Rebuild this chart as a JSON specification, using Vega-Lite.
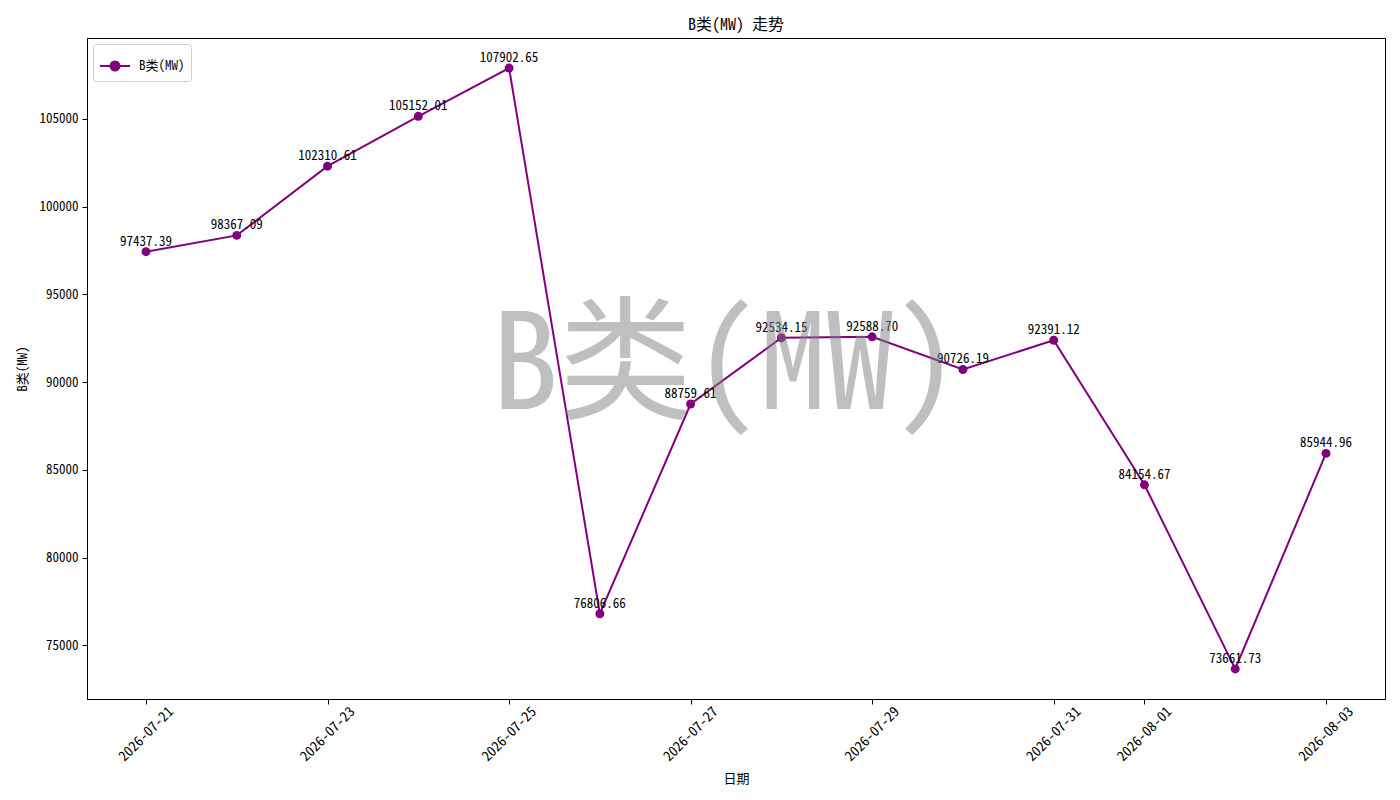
{
  "$schema": "https://vega.github.io/schema/vega-lite/v6.json",
  "width": 1298,
  "height": 661,
  "autosize": "none",
  "padding": {"left": 87, "top": 38, "right": 15, "bottom": 101},
  "background": "white",
  "title": {
    "text": "B类(MW) 走势",
    "fontSize": 16,
    "fontWeight": "normal",
    "font": "Noto Sans Mono CJK SC, Noto Sans CJK SC, sans-serif",
    "color": "black",
    "offset": 5
  },
  "config": {
    "font": "Noto Sans Mono CJK SC, Noto Sans CJK SC, sans-serif",
    "view": {"stroke": "black", "strokeWidth": 1},
    "axis": {
      "grid": false,
      "domainColor": "black",
      "tickColor": "black",
      "tickSize": 5,
      "labelColor": "black",
      "labelFontSize": 13,
      "titleFontSize": 13,
      "titleFontWeight": "normal",
      "titleColor": "black",
      "labelFont": "Noto Sans Mono CJK SC, Noto Sans CJK SC, sans-serif",
      "titleFont": "Noto Sans Mono CJK SC, Noto Sans CJK SC, sans-serif"
    }
  },
  "datasets": {
    "series": [
      {"date": "2026-07-21", "value": 97437.39},
      {"date": "2026-07-22", "value": 98367.09},
      {"date": "2026-07-23", "value": 102310.61},
      {"date": "2026-07-24", "value": 105152.01},
      {"date": "2026-07-25", "value": 107902.65},
      {"date": "2026-07-26", "value": 76806.66},
      {"date": "2026-07-27", "value": 88759.61},
      {"date": "2026-07-28", "value": 92534.15},
      {"date": "2026-07-29", "value": 92588.70},
      {"date": "2026-07-30", "value": 90726.19},
      {"date": "2026-07-31", "value": 92391.12},
      {"date": "2026-08-01", "value": 84154.67},
      {"date": "2026-08-02", "value": 73661.73},
      {"date": "2026-08-03", "value": 85944.96}
    ],
    "mark_text": [{"wm": "B类(MW)"}]
  },
  "layer": [
    {
      "data": {"name": "series"},
      "encoding": {
        "x": {
          "field": "date",
          "type": "temporal",
          "title": "日期",
          "scale": {
            "type": "utc",
            "domain": [
              {"year": 2026, "month": 7, "date": 20, "hours": 8, "minutes": 24, "utc": true},
              {"year": 2026, "month": 8, "date": 3, "hours": 15, "minutes": 36, "utc": true}
            ]
          },
          "axis": {
            "values": [
              {"year": 2026, "month": 7, "date": 21, "utc": true},
              {"year": 2026, "month": 7, "date": 23, "utc": true},
              {"year": 2026, "month": 7, "date": 25, "utc": true},
              {"year": 2026, "month": 7, "date": 27, "utc": true},
              {"year": 2026, "month": 7, "date": 29, "utc": true},
              {"year": 2026, "month": 7, "date": 31, "utc": true},
              {"year": 2026, "month": 8, "date": 1, "utc": true},
              {"year": 2026, "month": 8, "date": 3, "utc": true}
            ],
            "labelExpr": "utcFormat(datum.value, '%Y-%m-%d')",
            "labelFontSize": 14,
            "labelAngle": -45,
            "labelAlign": "center",
            "labelBaseline": "middle",
            "labelPadding": 30,
            "labelOverlap": false,
            "labelFlush": false,
            "titlePadding": 9
          }
        },
        "y": {
          "field": "value",
          "type": "quantitative",
          "title": "B类(MW)",
          "scale": {"domain": [71949, 109615], "nice": false, "zero": false},
          "axis": {
            "values": [75000, 80000, 85000, 90000, 95000, 100000, 105000],
            "format": "d",
            "labelPadding": 4,
            "titlePadding": 10
          }
        }
      },
      "layer": [
        {
          "mark": {"type": "line", "strokeWidth": 2},
          "encoding": {
            "color": {
              "datum": "B类(MW)",
              "scale": {"range": ["purple"]},
              "legend": {
                "title": null,
                "orient": "top-left",
                "offset": 6,
                "padding": 6,
                "fillColor": "white",
                "strokeColor": "#cccccc",
                "cornerRadius": 3,
                "labelFontSize": 13,
                "labelColor": "black",
                "labelOffset": 8,
                "symbolType": "M-1,0L1,0M-0.3,0A0.3,0.3 0 1,0 0.3,0A0.3,0.3 0 1,0 -0.3,0",
                "symbolSize": 900,
                "symbolStrokeWidth": 2,
                "symbolFillColor": "purple",
                "encode": {
                  "symbols": {
                    "update": {
                      "fill": {"value": "purple"},
                      "stroke": {"value": "purple"},
                      "strokeWidth": {"value": 2},
                      "opacity": {"value": 1}
                    }
                  }
                }
              }
            }
          }
        },
        {"mark": {"type": "point", "filled": true, "size": 80, "opacity": 1, "color": "purple"}},
        {
          "mark": {"type": "text", "fontSize": 13, "color": "black", "baseline": "alphabetic", "dy": -6},
          "encoding": {"text": {"field": "value", "type": "quantitative", "format": ".2f"}}
        }
      ]
    },
    {
      "data": {"name": "mark_text"},
      "mark": {
        "type": "text",
        "fontSize": 134,
        "color": "gray",
        "opacity": 0.5,
        "align": "center",
        "baseline": "middle",
        "dx": -10
      },
      "encoding": {"text": {"field": "wm", "type": "nominal"}}
    }
  ]
}
